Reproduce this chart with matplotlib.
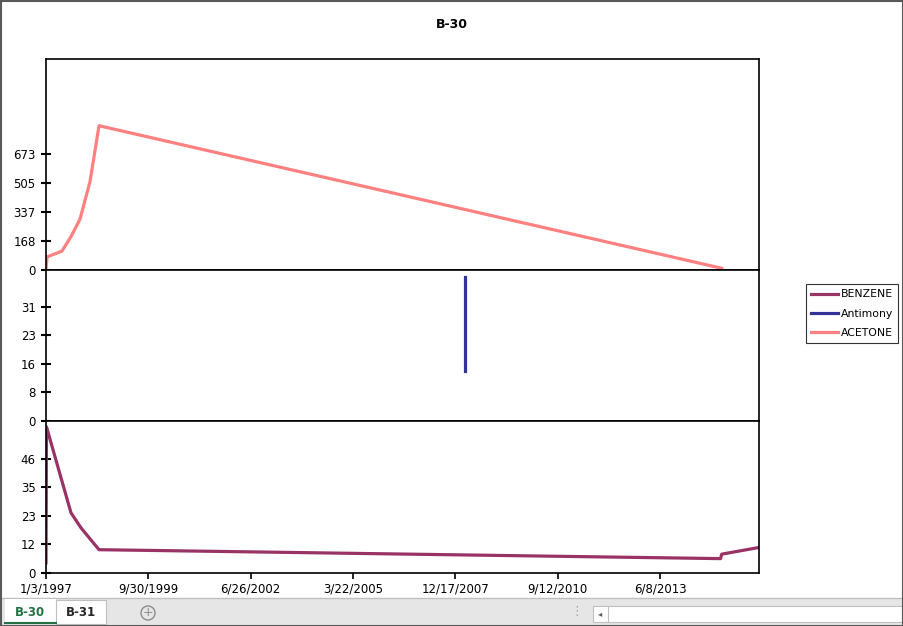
import datetime as dt
import matplotlib
matplotlib.use("Agg")
import matplotlib.pyplot as plt
import matplotlib.dates as mdates
from matplotlib.patches import Rectangle, Circle
from matplotlib.lines import Line2D
from matplotlib.ticker import FixedLocator, FixedFormatter, FuncFormatter

# data
acetone_dates = ["1997-01-03", "1997-01-13", "1997-06-08", "1997-09-04",
                 "1997-12-01", "1998-03-09", "1998-06-05", "2015-02-01"]
acetone = [2, 76, 110, 194, 295, 514, 839, 10]

antimony_dates = ["2008-03-22", "2008-03-22"]
antimony = [39.0, 13.5]

benzene_dates = ["1997-01-03", "1997-01-08", "1997-09-04", "1997-12-11",
                 "1998-06-05", "2015-01-20", "2015-02-01", "2016-02-01"]
benzene = [4.1, 58.9, 24.3, 18.2, 9.4, 5.8, 7.6, 10.3]

top_ticks = [0, 168.25, 336.5, 504.75, 673]
top_labels = ["0", "168", "337", "505", "673"]
mid_ticks = [0, 7.75, 15.5, 23.25, 31]
mid_labels = ["0", "8", "16", "23", "31"]
bot_ticks = [0, 11.5, 23, 34.5, 46]
bot_labels = ["0", "12", "23", "35", "46"]

x_start = dt.date(1997, 1, 3)
x_end = dt.date(2016, 1, 31)


def to_dates(items):
    return [dt.datetime.strptime(s, "%Y-%m-%d") for s in items]


plt.rcParams["font.family"] = "DejaVu Sans"
fig = plt.figure(figsize=(9.04, 6.26), dpi=100)
W, H = 904, 626


def box(x0, y0, x1, y1):
    # pixel box (top-left origin) -> figure fraction rect
    return [x0 / W, 1 - y1 / H, (x1 - x0) / W, (y1 - y0) / H]


ax_top = fig.add_axes(box(46, 59, 759, 270))
ax_mid = fig.add_axes(box(46, 270, 759, 421), sharex=ax_top)
ax_bot = fig.add_axes(box(46, 421, 759, 573), sharex=ax_top)

ax_top.plot(to_dates(acetone_dates), acetone, color="#FF8080", lw=2.3)
ax_mid.plot(to_dates(antimony_dates), antimony, color="#333399", lw=2.3)
ax_bot.plot(to_dates(benzene_dates), benzene, color="#993366", lw=2.3)

ax_top.set_ylim(0, 1227)
ax_mid.set_ylim(0, 40.9)
ax_bot.set_ylim(0, 61.3)

for ax, ticks, labels in [(ax_top, top_ticks, top_labels),
                          (ax_mid, mid_ticks, mid_labels),
                          (ax_bot, bot_ticks, bot_labels)]:
    ax.yaxis.set_major_locator(FixedLocator(ticks))
    ax.yaxis.set_major_formatter(FixedFormatter(labels))
    ax.tick_params(axis="y", direction="inout", length=7, width=1.5,
                   labelsize=8.5, pad=4)
    for sp in ax.spines.values():
        sp.set_linewidth(1.2)
        sp.set_color("black")
    ax.set_facecolor("white")

xticks = [x_start + dt.timedelta(days=1000 * k) for k in range(7)]
ax_bot.set_xlim(x_start, x_end)
ax_bot.xaxis.set_major_locator(FixedLocator(mdates.date2num(xticks)))
ax_bot.xaxis.set_major_formatter(FuncFormatter(
    lambda v, p: (lambda d: f"{d.month}/{d.day}/{d.year}")(mdates.num2date(v))))
ax_bot.tick_params(axis="x", direction="out", length=4, width=1.2,
                   labelsize=8.5, pad=3)
for ax in (ax_top, ax_mid):
    ax.tick_params(axis="x", which="both", bottom=False, labelbottom=False)

fig.text(0.5, 1 - 24 / H, "B-30", ha="center", va="center",
         fontsize=9, fontweight="bold")

handles = [Line2D([], [], color="#993366", lw=2.3),
           Line2D([], [], color="#333399", lw=2.3),
           Line2D([], [], color="#FF8080", lw=2.3)]
leg = fig.legend(handles, ["BENZENE", "Antimony", "ACETONE"],
                 loc="upper left", bbox_to_anchor=(806 / W, 1 - 284 / H),
                 fontsize=7.8, frameon=True, fancybox=False, edgecolor="black",
                 handlelength=2.5, handletextpad=0.2, borderpad=0.5,
                 labelspacing=0.85, borderaxespad=0)
leg.get_frame().set_linewidth(0.8)

# sheet tab strip at the bottom, like the workbook window
strip = fig.add_axes([0, 0, 1, 1], zorder=-1)
strip.set_xlim(0, W)
strip.set_ylim(H, 0)
strip.axis("off")
strip.add_patch(Rectangle((0, 598), W, 28, facecolor="#E6E6E6", edgecolor="#BFBFBF", lw=1))
strip.add_patch(Rectangle((5, 599), 51, 25, facecolor="white", edgecolor="none"))
strip.plot([5, 56], [623, 623], color="#217346", lw=1.5)
strip.add_patch(Rectangle((56, 600), 50, 24, facecolor="white", edgecolor="#BFBFBF", lw=0.8))
strip.text(30, 612, "B-30", ha="center", va="center", fontsize=8.5,
           fontweight="bold", color="#217346")
strip.text(81, 612, "B-31", ha="center", va="center", fontsize=8.5,
           fontweight="bold", color="#262626")
strip.add_patch(Circle((148, 613), 7, facecolor="none", edgecolor="#8C8C8C", lw=1))
strip.text(148, 613, "+", ha="center", va="center", fontsize=9, color="#8C8C8C")
strip.text(577, 612, "\u22ee", ha="center", va="center", fontsize=9, color="#A6A6A6")
strip.add_patch(Rectangle((593, 606), 309, 16, facecolor="white", edgecolor="#BFBFBF", lw=0.8))
strip.plot([608, 608], [606, 622], color="#BFBFBF", lw=0.8)
strip.text(600, 614, "\u25c2", ha="center", va="center", fontsize=6, color="#595959")
strip.add_patch(Rectangle((0.5, 0.5), W - 1, H - 1, facecolor="none", edgecolor="#595959", lw=1.5))

fig.savefig("out.png", dpi=100, facecolor="white")
